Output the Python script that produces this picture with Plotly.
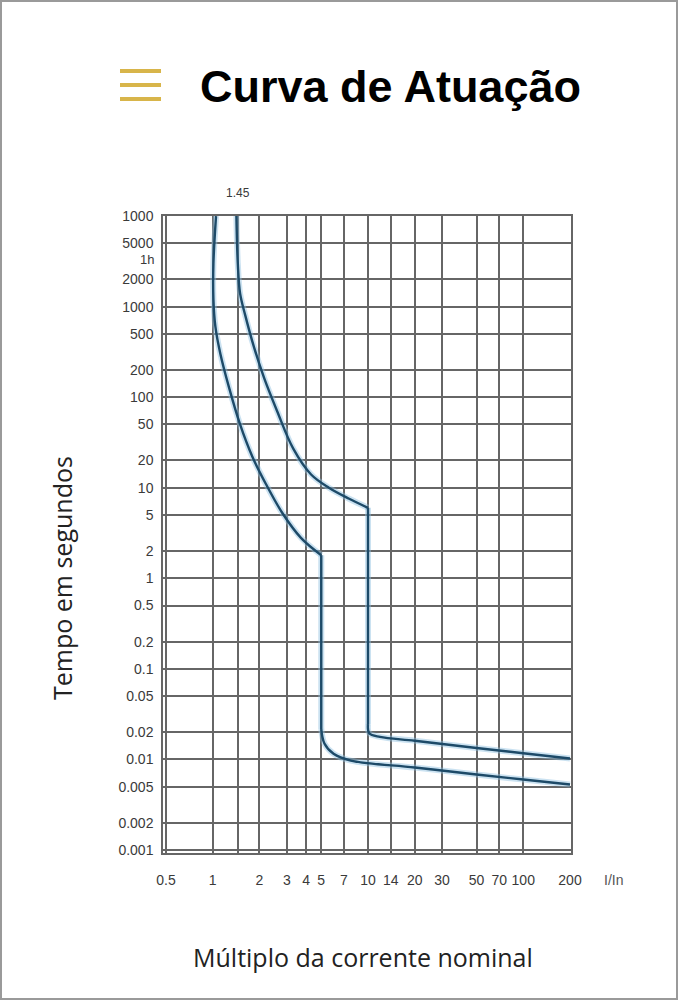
import math
import plotly.graph_objects as go

# ---- data ----
x_tick_vals = [0.5, 1, 1.45, 2, 3, 4, 5, 7, 10, 14, 20, 30, 50, 70, 100, 200]
x_tick_text = ["0.5", "1", "", "2", "3", "4", "5", "7", "10", "14", "20", "30", "50", "70", "100", "200"]

y_tick_vals = [10000, 5000, 2000, 1000, 500, 200, 100, 50, 20, 10, 5, 2, 1,
               0.5, 0.2, 0.1, 0.05, 0.02, 0.01, 0.005, 0.002, 0.001]
y_tick_text = ["1000", "5000", "2000", "1000", "500", "200", "100", "50", "20", "10", "5", "2", "1",
               "0.5", "0.2", "0.1", "0.05", "0.02", "0.01", "0.005", "0.002", "0.001"]
hour_value = 3600
hour_label = "1h"
marker_value = 1.45
marker_label = "1.45"

# lower (minimum) trip curve: thermal part, magnetic step at 5 In, instantaneous tail
lower_x = [1.05, 1.01, 1.01, 1.04, 1.12, 1.27, 1.5, 1.8, 2.2, 2.8, 3.7, 5.0,
           5.0, 5.24, 6.0, 7.75, 20, 50, 100, 200]
lower_y = [10000, 3000, 1200, 600, 300, 130, 50, 22, 11, 5.3, 2.8, 1.8,
           0.0216, 0.015, 0.01154, 0.00972, 0.00815, 0.00682, 0.0060, 0.00528]
lower_step = (11, 12)   # indices of the top and bottom of the vertical step

# upper (maximum) trip curve: thermal part, magnetic step at 10 In, instantaneous tail
upper_x = [1.42, 1.45, 1.5, 1.62, 1.85, 2.15, 2.6, 3.3, 4.3, 5.6, 7.5, 10.0,
           10.0, 10.18, 11.94, 20, 50, 100, 200]
upper_y = [10000, 3000, 1400, 800, 350, 160, 70, 27, 14, 10, 7.6, 6.0,
           0.0245, 0.0195, 0.01775, 0.0161, 0.01338, 0.0117, 0.01024]
upper_step = (11, 12)

title_text = "Curva de Atuação"
x_title = "Múltiplo da corrente nominal"
y_title = "Tempo em segundos"
x_unit = "I/In"

# ---- styling ----
W, H = 678, 1000
L, R, T, B = 163, 571, 216, 853
GRID = "#666666"
CURVE = "#1d4a68"
HALO = "rgba(140,190,225,0.45)"
TICKFONT = dict(family="Liberation Sans Narrow, Liberation Sans, Arial", size=14, color="#3a3a3a")


def px_x(p):
    return (p - L) / (R - L)


def px_y(p):
    return (B - p) / (B - T)


def segments(xs, ys, step):
    a, b = step
    return [
        (xs[:a + 1], ys[:a + 1], "spline"),
        (xs[a:b + 1], ys[a:b + 1], "linear"),
        (xs[b:], ys[b:], "spline"),
    ]


fig = go.Figure()
parts = segments(lower_x, lower_y, lower_step) + segments(upper_x, upper_y, upper_step)
for xs, ys, shape in parts:
    fig.add_trace(go.Scatter(x=xs, y=ys, mode="lines",
                             line=dict(color=HALO, width=6, shape=shape, smoothing=1.0),
                             hoverinfo="skip"))
for xs, ys, shape in parts:
    fig.add_trace(go.Scatter(x=xs, y=ys, mode="lines",
                             line=dict(color=CURVE, width=2.4, shape=shape, smoothing=1.0)))

fig.update_layout(
    width=W, height=H,
    margin=dict(l=L, r=W - R, t=T, b=H - B),
    paper_bgcolor="white", plot_bgcolor="white",
    showlegend=False,
    xaxis=dict(type="log", range=[-0.3204, 2.3075],
               tickmode="array", tickvals=x_tick_vals, ticktext=x_tick_text,
               showgrid=True, gridcolor=GRID, gridwidth=1.5,
               showline=True, linecolor=GRID, linewidth=1.5, mirror=True,
               ticks="outside", ticklen=13, tickcolor="rgba(0,0,0,0)",
               tickfont=TICKFONT, zeroline=False),
    yaxis=dict(type="log", range=[-3.033, 4.0005],
               tickmode="array", tickvals=y_tick_vals, ticktext=y_tick_text,
               showgrid=True, gridcolor=GRID, gridwidth=1.5,
               showline=True, linecolor=GRID, linewidth=1.5, mirror=True,
               ticks="outside", ticklen=5, tickcolor="rgba(0,0,0,0)",
               tickfont=TICKFONT, zeroline=False),
)

# outer frame of the picture
fig.add_shape(type="rect", xref="paper", yref="paper",
              x0=px_x(1), x1=px_x(W - 1), y0=px_y(H - 1), y1=px_y(1),
              line=dict(color="#9a9a9a", width=2), fillcolor="rgba(0,0,0,0)", layer="below")

# hamburger icon
for yy in (71, 85, 99):
    fig.add_shape(type="line", xref="paper", yref="paper",
                  x0=px_x(120), x1=px_x(161), y0=px_y(yy), y1=px_y(yy),
                  line=dict(color="#d8b54a", width=4))

fig.add_annotation(text=f"<b>{title_text}</b>", xref="paper", yref="paper",
                   x=px_x(390), y=px_y(86), xanchor="center", yanchor="middle",
                   showarrow=False,
                   font=dict(family="Liberation Sans, Arial", size=45, color="#000000"))

fig.add_annotation(text=marker_label, xref="x", yref="paper",
                   x=math.log10(marker_value),
                   y=px_y(193), xanchor="center", yanchor="middle", showarrow=False,
                   font=dict(family="Liberation Sans Narrow, Liberation Sans, Arial", size=12, color="#3a3a3a"))

fig.add_annotation(text=hour_label, xref="paper", yref="y",
                   x=px_x(156), y=math.log10(hour_value), yshift=-3,
                   xanchor="right", yanchor="middle", showarrow=False,
                   font=dict(family="Liberation Sans Narrow, Liberation Sans, Arial", size=13, color="#3a3a3a"))

fig.add_annotation(text=x_unit, xref="paper", yref="paper",
                   x=px_x(613), y=px_y(880), xanchor="center", yanchor="middle",
                   showarrow=False,
                   font=dict(family="Liberation Sans Narrow, Liberation Sans, Arial", size=14, color="#555555"))

fig.add_annotation(text=x_title, xref="paper", yref="paper",
                   x=px_x(363), y=px_y(957), xanchor="center", yanchor="middle",
                   showarrow=False,
                   font=dict(family="Open Sans", size=25, color="#222222"))

fig.add_annotation(text=y_title, xref="paper", yref="paper",
                   x=px_x(62), y=px_y(578), xanchor="center", yanchor="middle",
                   textangle=-90, showarrow=False,
                   font=dict(family="Open Sans", size=25, color="#222222"))

fig.write_html("out.html")
